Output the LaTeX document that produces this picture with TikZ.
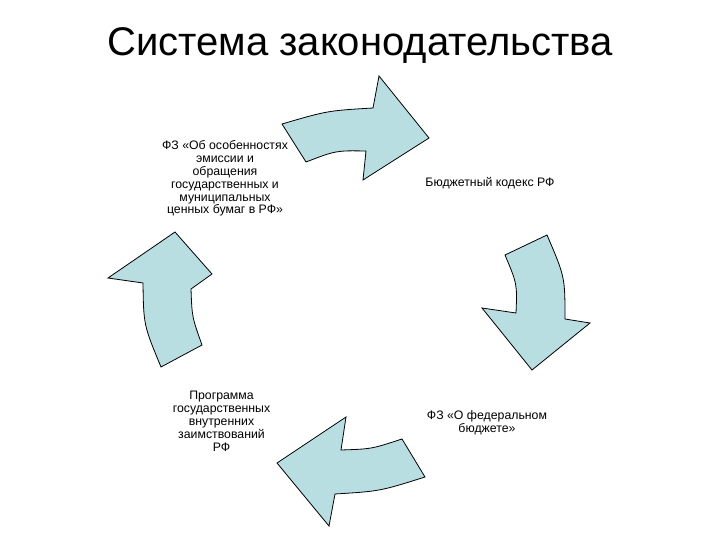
\documentclass[tikz,border=0pt]{standalone}
\usepackage{fontspec}
\setmainfont{Liberation Sans}
\definecolor{arrowfill}{RGB}{185,222,226}
\begin{document}
\begin{tikzpicture}[x=1pt,y=-1pt,
  bigarrow/.style={draw=black,line width=0.8pt,fill=arrowfill,line join=miter},
  itemtext/.style={align=center,font=\fontsize{12.3}{12.9}\selectfont,inner sep=0pt},
  titletext/.style={font=\fontsize{40}{44}\selectfont,inner sep=0pt}]
\useasboundingbox (0,0) rectangle (720,540);
\fill[white] (0,0) rectangle (720,540);
\node[titletext] (title) at (360,46) {Система законодательства};
% top arrow
\draw[bigarrow] (282,124) .. controls (327.5,110.7) .. (373,108) -- (379,76) -- (429,138) -- (363,180) -- (366,151) .. controls (336,150.5) .. (306,162) -- cycle;
% right arrow
\draw[bigarrow] (505,255) -- (547,235) .. controls (565,277) .. (565,319) -- (590,323) -- (532,370) -- (482,308) -- (516,313) .. controls (517.2,284) .. (505,255) -- cycle;
% bottom arrow
\draw[bigarrow] (402,439) -- (425,477) .. controls (380,491.2) .. (335,494) -- (329,526) -- (277,463) -- (346,417) -- (341,450) .. controls (371.5,449) .. (402,439) -- cycle;
% left arrow
\draw[bigarrow] (161,367) .. controls (143.6,325) .. (143,283) -- (108,278) -- (175,232) -- (212,274) -- (191,289) .. controls (192,317) .. (202,345) -- cycle;
\node[itemtext] (fzemission) at (225,178.5) {ФЗ «Об особенностях\\эмиссии и\\обращения\\государственных и\\муниципальных\\ценных бумаг в РФ»};
\node[itemtext] (budget) at (490,183) {Бюджетный кодекс РФ};
\node[itemtext] (fzfed) at (487,422.5) {ФЗ «О федеральном\\бюджете»};
\node[itemtext] (program) at (221.5,421) {Программа\\государственных\\внутренних\\заимствований\\РФ};
\end{tikzpicture}
\end{document}
